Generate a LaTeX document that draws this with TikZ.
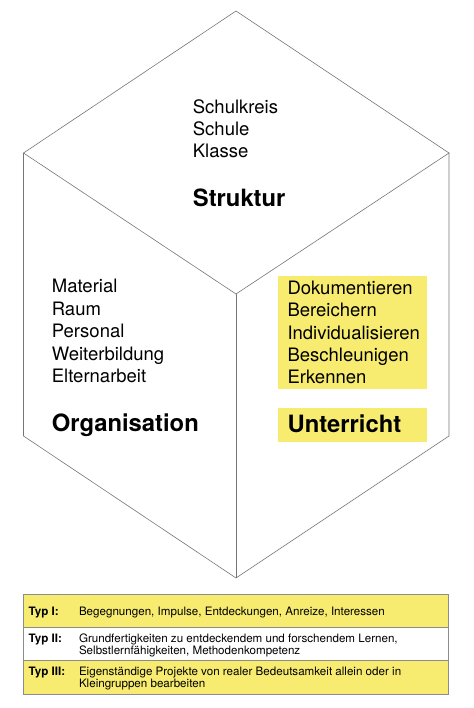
\documentclass[tikz,border=0pt]{standalone}
\usepackage{fontspec}
\setmainfont{TeX Gyre Heros}
\definecolor{hl}{RGB}{247,236,112}
\definecolor{edge}{RGB}{118,118,118}
\definecolor{tabline}{RGB}{140,140,140}
\begin{document}
\begin{tikzpicture}[x=1pt,y=-1pt,
  lbl/.style={anchor=base west,inner sep=0pt,font=\fontsize{18.5}{22}\selectfont},
  head/.style={anchor=base west,inner sep=0pt,font=\bfseries\fontsize{23.8}{28}\selectfont},
  tab/.style={anchor=base west,inner sep=0pt,font=\fontsize{11.6}{12.5}\selectfont},
  tabhead/.style={anchor=base west,inner sep=0pt,font=\bfseries\fontsize{11.6}{12.5}\selectfont},
  cubeedge/.style={draw=edge,line width=0.6pt,line join=miter},
  tabedge/.style={draw=tabline,line width=0.7pt}]
\useasboundingbox (0,0) rectangle (473,708);
% cube vertices
\coordinate (T) at (236,11);
\coordinate (L) at (23.5,153);
\coordinate (R) at (449,153);
\coordinate (C) at (236,294);
\coordinate (LB) at (23.5,436);
\coordinate (RB) at (449,436);
\coordinate (B) at (236,578);
\draw[cubeedge] (T) -- (R) -- (C) -- (L) -- cycle;
\draw[cubeedge] (L) -- (LB) -- (B) -- (RB) -- (R);
\draw[cubeedge] (C) -- (B);
% top face
\node[lbl] (s1) at (192.7,113.3) {Schulkreis};
\node[lbl] (s2) at (192.7,135.5) {Schule};
\node[lbl] (s3) at (192.7,157.5) {Klasse};
\node[head] (sh) at (192.7,207) {Struktur};
% left face
\node[lbl] (o1) at (51.7,292.7) {Material};
\node[lbl] (o2) at (51.7,315.2) {Raum};
\node[lbl] (o3) at (51.7,337.5) {Personal};
\node[lbl] (o4) at (51.7,360) {Weiterbildung};
\node[lbl] (o5) at (51.7,382.5) {Elternarbeit};
\node[head] (oh) at (51.7,431.7) {Organisation};
% right face
\fill[hl] (278.3,276) rectangle (426.7,389.3);
\fill[hl] (278.3,408.3) rectangle (426.7,442.3);
\node[lbl] (u1) at (287.3,294) {Dokumentieren};
\node[lbl] (u2) at (287.3,316.5) {Bereichern};
\node[lbl] (u3) at (287.3,339) {Individualisieren};
\node[lbl] (u4) at (287.3,361.2) {Beschleunigen};
\node[lbl] (u5) at (287.3,383.3) {Erkennen};
\node[head] (uh) at (287.3,432.7) {Unterricht};
% table
\fill[hl] (23.3,594) rectangle (448.3,627.3);
\fill[hl] (23.3,660.7) rectangle (448.3,694);
\draw[tabedge] (23.3,594) rectangle (448.3,694);
\draw[tabedge] (23.3,627.3) -- (448.3,627.3);
\draw[tabedge] (23.3,660.7) -- (448.3,660.7);
\node[tabhead] (t1) at (28.5,615.7) {Typ I:};
\node[tab] (d1) at (78.8,615.7) {Begegnungen, Impulse, Entdeckungen, Anreize, Interessen};
\node[tabhead] (t2) at (28.5,642) {Typ II:};
\node[tab] (d2a) at (78.8,642) {Grundfertigkeiten zu entdeckendem und forschendem Lernen,};
\node[tab] (d2b) at (78.8,654.3) {Selbstlernfähigkeiten, Methodenkompetenz};
\node[tabhead] (t3) at (28.5,675) {Typ III:};
\node[tab] (d3a) at (78.8,675) {Eigenständige Projekte von realer Bedeutsamkeit allein oder in};
\node[tab] (d3b) at (78.8,687.6) {Kleingruppen bearbeiten};
\end{tikzpicture}
\end{document}
